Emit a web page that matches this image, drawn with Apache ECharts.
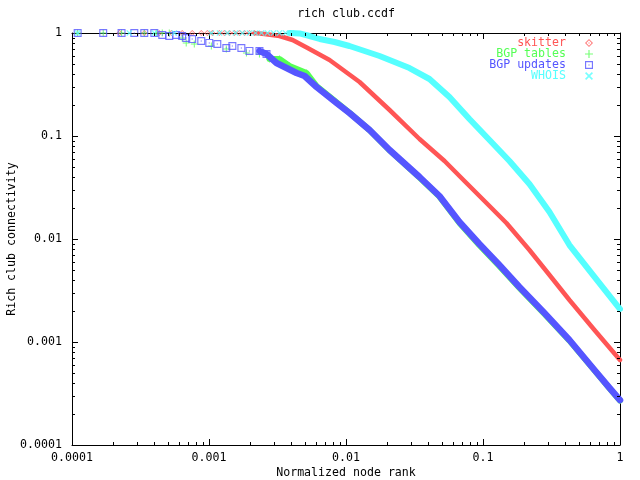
<!DOCTYPE html>
<html>
<head>
<meta charset="utf-8">
<script src="https://cdn.jsdelivr.net/npm/echarts@6/dist/echarts.min.js"></script>
<style>html,body{margin:0;padding:0;background:#fff}#c{width:640px;height:480px}</style>
</head>
<body>
<div id="c"></div>
<script>
// ---- data ----
const seriesNames = ['skitter', 'BGP tables', 'BGP updates', 'WHOIS'];
const xTickLabels = ['0.0001', '0.001', '0.01', '0.1', '1'];
const yTickLabels = ['0.0001', '0.001', '0.01', '0.1', '1'];

// skitter: sparse markers then dense band
const skitterMarks = [
  [0.000222,1],[0.000337,1],[0.000433,1],[0.000531,1],[0.000637,1],[0.000754,1],
  [0.000878,1],[0.000972,1],[0.001058,1],[0.001189,1],[0.001293,1],[0.001408,1],
  [0.001532,1],[0.001667,1],[0.001815,1],[0.001974,1],[0.002147,1]
];
const skitterBand = [
  [0.00215,1],[0.002541,0.978],[0.00327,0.935],[0.004075,0.855],[0.005246,0.715],
  [0.007585,0.547],[0.01256,0.3344],[0.0208,0.1788],[0.0344,0.0935],[0.0524,0.0572],
  [0.0732,0.03656],[0.106,0.02236],[0.1482,0.01429],[0.2182,0.00782],[0.3057,0.00447],
  [0.4274,0.002557],[0.651,0.001308],[1,0.000669]
];

// BGP tables
const tablesMarks = [
  [0.00011,1],[0.000169,1],[0.00023,1],[0.000337,1],[0.000412,1],[0.000456,1],
  [0.000513,1],[0.000637,0.894],[0.000682,0.800],[0.000781,0.782],[0.00104,0.748],
  [0.001338,0.699],[0.001876,0.639],[0.002335,0.625],[0.002766,0.559],[0.00327,0.559],
  [0.003872,0.478],[0.005157,0.409]
];
const tablesBand = [
  [0.002766,0.559],[0.00327,0.559],[0.003872,0.478],[0.005157,0.409],[0.0061,0.305],
  [0.00854,0.212],[0.0106,0.168],[0.01486,0.114],[0.0208,0.0725],[0.0344,0.0395],
  [0.0481,0.0258],[0.0673,0.0143],[0.0941,0.0087],[0.1317,0.00545],[0.1844,0.00335],
  [0.2807,0.00187],[0.4274,0.00103],[0.651,0.00053],[0.838,0.000355],[1,0.00027]
];

// BGP updates
const updatesMarks = [
  [0.00011,1],[0.000169,1],[0.00023,1],[0.000285,1],[0.000337,1],[0.000399,1],
  [0.000456,0.956],[0.000513,0.935],[0.000576,0.956],[0.000637,0.935],[0.000682,0.894],
  [0.000754,0.874],[0.000878,0.836],[0.001005,0.800],[0.00115,0.782],[0.001338,0.715],
  [0.001481,0.748],[0.001723,0.715],[0.001974,0.669],[0.002335,0.669],[0.002629,0.625]
];
const updatesBand = [
  [0.002335,0.669],[0.002629,0.625],[0.00311,0.511],[0.003682,0.457],[0.004356,0.409],
  [0.004986,0.3825],[0.0061,0.299],[0.00854,0.209],[0.0106,0.1673],[0.01486,0.1144],
  [0.0208,0.0731],[0.0344,0.040],[0.0481,0.02615],[0.0673,0.01462],[0.0941,0.00894],
  [0.1317,0.00559],[0.1844,0.00342],[0.2807,0.00191],[0.4274,0.001046],[0.651,0.000535],
  [0.838,0.000358],[1,0.000273]
];

// WHOIS
const whoisMarks = [
  [0.00011,1],[0.000262,1],[0.000399,1],[0.000558,1],[0.00104,1],[0.001193,1],
  [0.001365,1],[0.001561,1],[0.001755,1],[0.001975,1],[0.002185,1],[0.002417,1],
  [0.002673,1],[0.002957,1],[0.00327,1],[0.003617,1],[0.004001,1]
];
const whoisBand = [
  [0.0039,1],[0.00458,0.99],[0.00543,0.935],[0.00642,0.8745],[0.00825,0.818],
  [0.0106,0.748],[0.01366,0.669],[0.01758,0.598],[0.02261,0.523],[0.02907,0.457],
  [0.04067,0.3576],[0.0569,0.239],[0.0796,0.1462],[0.1115,0.0914],[0.156,0.0572],
  [0.2182,0.0342],[0.3057,0.0183],[0.4274,0.00874],[0.651,0.00428],[1,0.00209]
];

// ---- styling ----
const colors = ['#ff5555', '#55ff55', '#5555ff', '#55ffff'];
const FONT = '"DejaVu Sans Mono", "Liberation Mono", monospace';
const FS = 11.6;
const symbols = [
  'path://M3.5,0L7,3.5L3.5,7L0,3.5Z M3.5,1.2L1.2,3.5L3.5,5.8L5.8,3.5Z M3,3H4V4H3Z',
  'path://M3,0H4V3H7V4H4V7H3V4H0V3H3Z',
  'path://M0,0H7V7H0Z M1,1V6H6V1Z M3,3H4V4H3Z',
  'path://M0,1L1,0L3.5,2.5L6,0L7,1L4.5,3.5L7,6L6,7L3.5,4.5L1,7L0,6L2.5,3.5Z'
];
const symbolSizes = [6, 7, 8, 6];
const bandWidths = [4.5, 6, 6.5, 6];
const marks = [skitterMarks, tablesMarks, updatesMarks, whoisMarks];
const bands = [skitterBand, tablesBand, updatesBand, whoisBand];

// minor tick positions (2..9 in each decade)
const minorVals = [];
for (let d = -4; d < 0; d++) for (let k = 2; k <= 9; k++) minorVals.push(k * Math.pow(10, d));

const series = [];
for (let i = 0; i < 4; i++) {
  series.push({
    name: seriesNames[i], type: 'scatter', data: marks[i],
    symbol: symbols[i], symbolSize: symbolSizes[i],
    itemStyle: { color: colors[i] }, z: 2 + i * 2
  });
  series.push({
    name: seriesNames[i], type: 'line', data: bands[i],
    showSymbol: false, symbol: 'none',
    lineStyle: { color: colors[i], width: bandWidths[i], join: 'round', cap: 'round' },
    itemStyle: { color: colors[i] }, z: 3 + i * 2
  });
}
// minor ticks on all four sides
series.push({
  type: 'custom', silent: true, z: 20,
  data: minorVals.map(v => [v, v]),
  renderItem: function (params, api) {
    const cs = params.coordSys;
    const v = api.value(0);
    const px = Math.round(api.coord([v, 1])[0]) + 0.5;
    const py = Math.round(api.coord([1, v])[1]) + 0.5;
    const L = 3;
    const st = { stroke: '#000', lineWidth: 1 };
    const x0 = cs.x, x1 = cs.x + cs.width, y0 = cs.y, y1 = cs.y + cs.height;
    return { type: 'group', children: [
      { type: 'line', shape: { x1: px, y1: y1, x2: px, y2: y1 - L }, style: st },
      { type: 'line', shape: { x1: px, y1: y0, x2: px, y2: y0 + L }, style: st },
      { type: 'line', shape: { x1: x0, y1: py, x2: x0 + L, y2: py }, style: st },
      { type: 'line', shape: { x1: x1, y1: py, x2: x1 - L, y2: py }, style: st }
    ]};
  }
});

const axisCommon = {
  type: 'log', logBase: 10, min: 0.0001, max: 1,
  axisLine: { show: true, lineStyle: { color: '#000', width: 1 } },
  axisTick: { show: true, inside: true, length: 6, lineStyle: { color: '#000' } },
  splitLine: { show: false },
  minorTick: { show: false }
};

const chart = echarts.init(document.getElementById('c'), null, { renderer: 'canvas' });
chart.setOption({
  animation: false,
  backgroundColor: '#fff',
  grid: { left: 72, right: 20, top: 33, bottom: 35, containLabel: false, outerBoundsMode: 'none' },
  xAxis: [
    Object.assign({}, axisCommon, {
      position: 'bottom',
      name: 'Normalized node rank', nameLocation: 'middle', nameGap: 22, nameMoveOverlap: false,
      nameTextStyle: { fontFamily: FONT, fontSize: FS, color: '#000' },
      axisLabel: { fontFamily: FONT, fontSize: FS, color: '#000', margin: 7,
        formatter: (v, i) => xTickLabels[i] }
    }),
    Object.assign({}, axisCommon, { position: 'top', axisLabel: { show: false } })
  ],
  yAxis: [
    Object.assign({}, axisCommon, {
      position: 'left',
      name: 'Rich club connectivity', nameLocation: 'middle', nameGap: 54, nameMoveOverlap: false,
      nameTextStyle: { fontFamily: FONT, fontSize: FS, color: '#000' },
      axisLabel: { fontFamily: FONT, fontSize: FS, color: '#000', margin: 10,
        formatter: (v, i) => yTickLabels[i] }
    }),
    Object.assign({}, axisCommon, { position: 'right', axisLabel: { show: false } })
  ],
  legend: {
    data: seriesNames.map((n, i) => ({ name: n, textStyle: { color: colors[i] } })),
    orient: 'vertical', right: 47, top: 37, align: 'right', padding: 0,
    itemWidth: 36, itemHeight: 8, itemGap: -1,
    textStyle: { fontFamily: FONT, fontSize: FS, lineHeight: 11 },
    selectedMode: false
  },
  graphic: [{
    type: 'text', x: 346, y: 14,
    style: { text: 'rich club.ccdf', font: FS + 'px ' + FONT, fill: '#000',
      textAlign: 'center', textVerticalAlign: 'middle' }
  }],
  series: series
});
</script>
</body>
</html>
